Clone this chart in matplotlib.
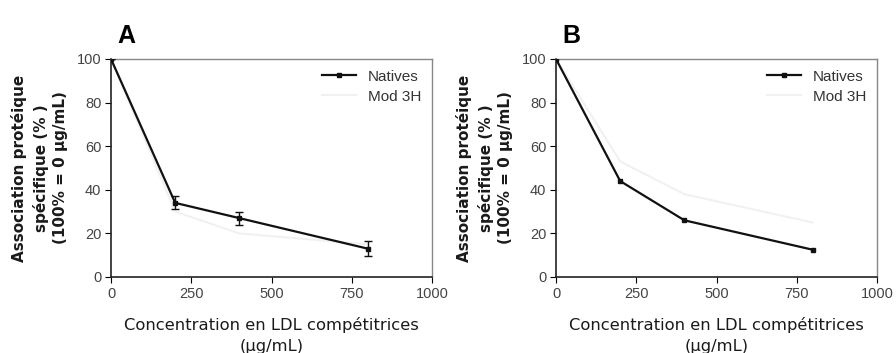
import matplotlib
matplotlib.use('Agg')
import matplotlib.pyplot as plt
from matplotlib.lines import Line2D

plt.rcParams['font.family'] = ['Liberation Sans', 'DejaVu Sans']

concentrations = [0, 200, 400, 800]

nativesA = [100, 34, 27, 13]
nativesAErr = [0, 3, 3, 3.5]
mod3hA = [100, 30, 20, 15]

nativesB = [100, 44, 26, 12.5]
mod3hB = [100, 53, 38, 25]

xticks = [0, 250, 500, 750, 1000]
yticks = [0, 20, 40, 60, 80, 100]
panels = ['A', 'B']

couleurNatives = '#111111'
couleurMod = '#f1f1f1'

fig = plt.figure(figsize=(8.96, 3.53), dpi=100)
axA = fig.add_axes([111/896, 1 - 277/353, 321/896, 218/353])
axB = fig.add_axes([556/896, 1 - 277/353, 321/896, 218/353])


def dessine(ax, natives, mod3h, erreurs, lettre):
    ax.plot(concentrations, mod3h, color=couleurMod, lw=1.5, zorder=2)
    if erreurs is not None:
        ax.errorbar(concentrations, natives, yerr=erreurs, color=couleurNatives, lw=1.6,
                    marker='s', ms=2.5, capsize=3, elinewidth=1, zorder=3)
    else:
        ax.plot(concentrations, natives, color=couleurNatives, lw=1.6, marker='s', ms=2.5, zorder=3)
    ax.set_xlim(0, 1000)
    ax.set_ylim(0, 100)
    ax.set_xticks(xticks)
    ax.set_yticks(yticks)
    ax.tick_params(labelsize=10.5, labelcolor='#444444', length=4, direction='out', pad=3)
    for s in ['left', 'bottom']:
        ax.spines[s].set_color('#222222')
        ax.spines[s].set_linewidth(1.2)
    for s in ['top', 'right']:
        ax.spines[s].set_color('#888888')
        ax.spines[s].set_linewidth(1.0)
    ax.set_xlabel('Concentration en LDL compétitrices\n(µg/mL)', fontsize=11.8, family='DejaVu Sans',
                  color='#1a1a1a', labelpad=12, linespacing=1.45)
    ax.set_ylabel('Association protéique\nspécifique (% )\n(100% = 0 µg/mL)', fontsize=11,
                  family='DejaVu Sans', fontweight='bold', color='#1a1a1a', labelpad=6,
                  linespacing=1.4)
    poignees = [Line2D([], [], color=couleurNatives, lw=1.6, marker='s', ms=2.5),
                Line2D([], [], color=couleurMod, lw=1.5)]
    ax.legend(poignees, ['Natives', 'Mod 3H'], loc='upper right', frameon=False, fontsize=11,
              handlelength=2.2, labelcolor='#333333', borderaxespad=0.3, labelspacing=0.4)
    ax.text(0.02, 1.05, lettre, transform=ax.transAxes, fontsize=18, fontweight='bold',
            ha='left', va='bottom')


dessine(axA, nativesA, mod3hA, nativesAErr, panels[0])
dessine(axB, nativesB, mod3hB, None, panels[1])

fig.savefig('out.png', dpi=100)
